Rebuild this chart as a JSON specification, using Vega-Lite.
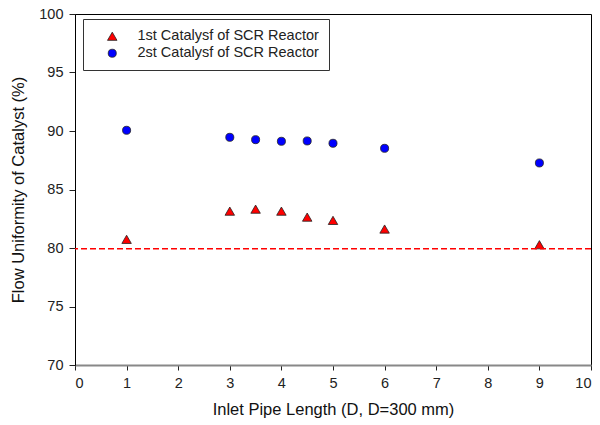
{
  "$schema": "https://vega.github.io/schema/vega-lite/v6.json",
  "width": 516,
  "height": 351,
  "autosize": "none",
  "padding": {"left": 75, "top": 14, "right": 9, "bottom": 60},
  "background": "white",
  "config": {
    "font": "Liberation Sans",
    "view": {"stroke": "#000", "strokeWidth": 1},
    "axis": {"grid": false, "labelFont": "Liberation Sans", "titleFont": "Liberation Sans", "labelFontSize": 14.5, "titleFontSize": 16.5, "titleFontWeight": "normal", "labelColor": "#222", "titleColor": "#111", "tickColor": "#222", "tickSize": 6, "labelPadding": 6}
  },
  "layer": [
    {
      "data": {"values": [
        {"x": 1, "y": 80.74, "series": "1st Catalysf of SCR Reactor"},
        {"x": 3, "y": 83.15, "series": "1st Catalysf of SCR Reactor"},
        {"x": 3.5, "y": 83.32, "series": "1st Catalysf of SCR Reactor"},
        {"x": 4, "y": 83.15, "series": "1st Catalysf of SCR Reactor"},
        {"x": 4.5, "y": 82.64, "series": "1st Catalysf of SCR Reactor"},
        {"x": 5, "y": 82.36, "series": "1st Catalysf of SCR Reactor"},
        {"x": 6, "y": 81.62, "series": "1st Catalysf of SCR Reactor"},
        {"x": 9, "y": 80.28, "series": "1st Catalysf of SCR Reactor"},
        {"x": 1, "y": 90.06, "series": "2st Catalysf of SCR Reactor"},
        {"x": 3, "y": 89.46, "series": "2st Catalysf of SCR Reactor"},
        {"x": 3.5, "y": 89.26, "series": "2st Catalysf of SCR Reactor"},
        {"x": 4, "y": 89.12, "series": "2st Catalysf of SCR Reactor"},
        {"x": 4.5, "y": 89.15, "series": "2st Catalysf of SCR Reactor"},
        {"x": 5, "y": 88.95, "series": "2st Catalysf of SCR Reactor"},
        {"x": 6, "y": 88.52, "series": "2st Catalysf of SCR Reactor"},
        {"x": 9, "y": 87.27, "series": "2st Catalysf of SCR Reactor"}
      ]},
      "mark": {"type": "point", "filled": true, "opacity": 1, "stroke": "#222", "strokeWidth": 0.8},
      "encoding": {
        "x": {"field": "x", "type": "quantitative", "scale": {"domain": [0, 10], "nice": false, "zero": false}, "axis": {"values": [0,1,2,3,4,5,6,7,8,9,10], "title": "Inlet Pipe Length (D, D=300 mm)", "titlePadding": 12, "domainColor": "#888", "domainWidth": 2, "tickSize": 5}},
        "y": {"field": "y", "type": "quantitative", "scale": {"domain": [70, 100], "nice": false, "zero": false}, "axis": {"values": [70,75,80,85,90,95,100], "title": "Flow Uniformity of Catalyst (%)", "titlePadding": 12, "domainColor": "#000"}},
        "size": {"field": "series", "type": "nominal", "scale": {"domain": ["1st Catalysf of SCR Reactor", "2st Catalysf of SCR Reactor"], "range": [90, 65]}, "legend": null},
        "shape": {"field": "series", "type": "nominal", "scale": {"domain": ["1st Catalysf of SCR Reactor", "2st Catalysf of SCR Reactor"], "range": ["triangle-up", "circle"]}, "legend": null},
        "color": {"field": "series", "type": "nominal", "scale": {"domain": ["1st Catalysf of SCR Reactor", "2st Catalysf of SCR Reactor"], "range": ["#ff0000", "#0000ff"]},
          "legend": {"title": null, "orient": "none", "legendX": 8, "legendY": 5, "labelFontSize": 14.5, "labelFont": "Liberation Sans", "labelColor": "#222", "labelLimit": 400, "strokeColor": "#333", "padding": 10, "symbolStrokeColor": "#222", "symbolStrokeWidth": 0.8, "symbolSize": 50, "symbolOffset": 12, "labelOffset": 18, "rowPadding": 2, "symbolType": "circle"}}
      }
    },
    {
      "data": {"values": [{"y": 79.93}]},
      "mark": {"type": "rule", "color": "#ff0000", "strokeDash": [6, 3], "strokeWidth": 1.5},
      "encoding": {"y": {"field": "y", "type": "quantitative"}}
    }
  ]
}
